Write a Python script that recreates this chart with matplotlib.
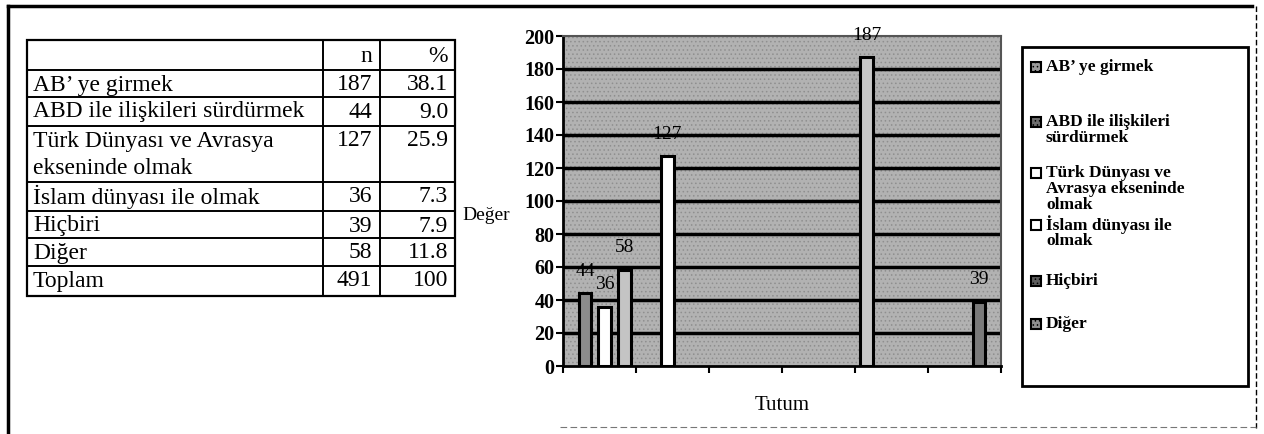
import matplotlib.pyplot as plt
from matplotlib.patches import Rectangle

plt.rcParams['font.family'] = ['Liberation Serif', 'DejaVu Serif']
plt.rcParams['hatch.linewidth'] = 0.6

# table data
row_names = ["AB’ ye girmek", "ABD ile ilişkileri sürdürmek",
             "Türk Dünyası ve Avrasya\nekseninde olmak", "İslam dünyası ile olmak",
             "Hiçbiri", "Diğer", "Toplam"]
n_vals = [187, 44, 127, 36, 39, 58, 491]
pct_vals = ["38.1", "9.0", "25.9", "7.3", "7.9", "11.8", "100"]

# chart data (bars in the order they appear left to right)
bar_values = [44, 36, 58, 127, 187, 39]
bar_pos = [0.30, 0.57, 0.84, 1.43, 4.16, 5.70]
bar_colors = ['#8c8c8c', 'white', '#c4c4c4', 'white', '#c8c8c8', '#7a7a7a']

legend_names = ["AB’ ye girmek", "ABD ile ilişkileri\nsürdürmek",
                "Türk Dünyası ve\nAvrasya ekseninde\nolmak", "İslam dünyası ile\nolmak",
                "Hiçbiri", "Diğer"]
legend_colors = ['#9a9a9a', '#6e6e6e', 'white', 'white', '#5e5e5e', '#8e8e8e']
legend_y = [67, 122, 173, 225, 281, 324]

fig = plt.figure(figsize=(12.64, 4.34), dpi=100)

# background layer in pixel coords
bg = fig.add_axes([0, 0, 1, 1])
bg.set_xlim(0, 1264)
bg.set_ylim(434, 0)
bg.axis('off')

# page frame
bg.plot([8, 1252], [6, 6], color='black', lw=2.5)
bg.plot([8, 8], [6, 434], color='black', lw=2.5)
bg.plot([1256, 1256], [6, 428], color='black', lw=1, ls=(0, (4, 2)))
bg.plot([560, 1256], [427, 427], color='#777777', lw=0.8, ls=(0, (6, 3)))

# table
tx0, tx1, tc1, tc2 = 27, 455, 323, 380
row_lines = [40, 70, 97, 126, 182, 211, 238, 266, 296]
bg.add_patch(Rectangle((tx0, row_lines[0]), tx1 - tx0, row_lines[-1] - row_lines[0],
                       fill=False, lw=1.6, edgecolor='black'))
for y in row_lines[1:-1]:
    bg.plot([tx0, tx1], [y, y], color='black', lw=1.4)
for x in [tc1, tc2]:
    bg.plot([x, x], [row_lines[0], row_lines[-1]], color='black', lw=1.4)

tfs = 17
bg.text(372, 57, "n", ha='right', va='center', fontsize=tfs)
bg.text(448, 57, "%", ha='right', va='center', fontsize=tfs)
for i, name in enumerate(row_names):
    top = row_lines[i + 1]
    for j, line in enumerate(name.split("\n")):
        bg.text(33, top + 15 + j * 28, line, ha='left', va='center', fontsize=tfs)
    bg.text(372, top + 15, str(n_vals[i]), ha='right', va='center', fontsize=tfs)
    bg.text(448, top + 15, pct_vals[i], ha='right', va='center', fontsize=tfs)

# axis titles
bg.text(486, 216, "Değer", ha='center', va='center', fontsize=14)
bg.text(782, 405, "Tutum", ha='center', va='center', fontsize=15)

# legend box
bg.add_patch(Rectangle((1022, 47), 226, 339, fill=False, lw=2, edgecolor='black'))
for name, c, y in zip(legend_names, legend_colors, legend_y):
    bg.add_patch(Rectangle((1031, y - 5), 10, 10, facecolor=c, edgecolor='black', lw=1.5,
                           hatch='....' if c != 'white' else None))
    for j, line in enumerate(name.split("\n")):
        bg.text(1046, y + j * 16, line, ha='left', va='center', fontsize=12.5, fontweight='bold')

# chart
ax = fig.add_axes([563 / 1264, 1 - 366 / 434, 438 / 1264, 330 / 434])
ax.set_xlim(0, 6)
ax.set_ylim(0, 200)
ax.set_facecolor('#b2b2b2')
ax.add_patch(Rectangle((0, 0), 1, 1, transform=ax.transAxes, facecolor='none',
                       edgecolor='#8f8f8f', hatch='....', lw=0, zorder=0))
for y in range(20, 200, 20):
    ax.axhline(y, color='black', lw=2.5, zorder=1)

ax.bar(bar_pos, bar_values, width=0.17, color=bar_colors, edgecolor='black',
       linewidth=2.2, zorder=3)
for x, v in zip(bar_pos, bar_values):
    ax.annotate(str(v), (x, v), xytext=(0, 10), textcoords='offset points',
                ha='center', va='bottom', fontsize=14, zorder=4)

ax.set_yticks(range(0, 201, 20))
ax.set_xticks(range(0, 7))
ax.set_xticklabels([])
ax.tick_params(axis='y', direction='out', length=5, width=1.5, labelsize=14.5, pad=1)
ax.tick_params(axis='x', direction='out', length=5, width=1.5)
for lbl in ax.get_yticklabels():
    lbl.set_fontweight('bold')
for s in ['left', 'bottom']:
    ax.spines[s].set_linewidth(2)
for s in ['top', 'right']:
    ax.spines[s].set_linewidth(1.5)
    ax.spines[s].set_color('#555555')

fig.savefig('out.png', dpi=100)
